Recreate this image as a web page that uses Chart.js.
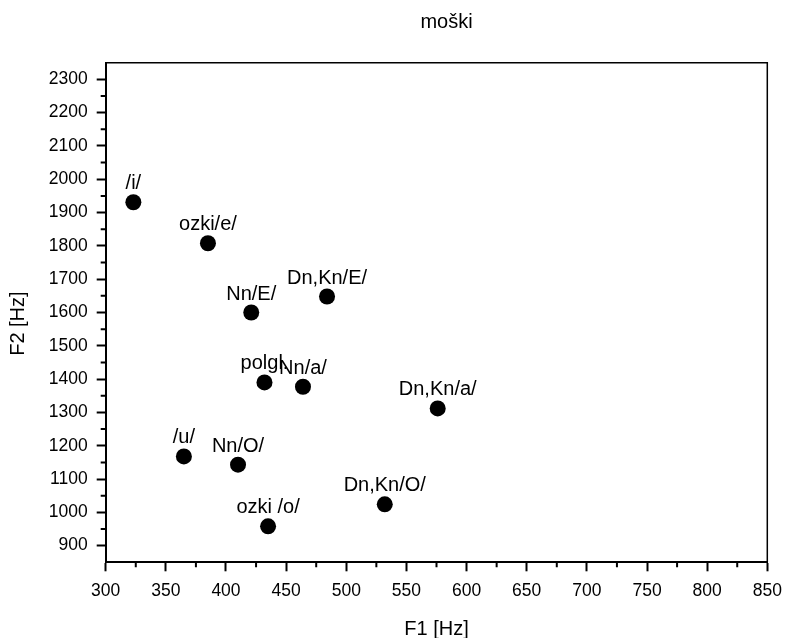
<!DOCTYPE html>
<html>
<head>
<meta charset="utf-8">
<script src="https://cdn.jsdelivr.net/npm/chart.js@4/dist/chart.umd.min.js"></script>
<style>
  body { margin: 0; background: #fff; }
  #wrap { width: 786px; height: 638px; }
</style>
</head>
<body>
<div id="wrap"><canvas id="formantChart" width="786" height="638"></canvas></div>
<script>
// samoglasniki - moški govorec
const vowels = ["/i/", "ozki/e/", "Nn/E/", "Dn,Kn/E/", "polgl.", "Nn/a/", "Dn,Kn/a/", "/u/", "Nn/O/", "ozki /o/", "Dn,Kn/O/"];
const f1 = [323, 385, 421, 484, 432, 464, 576, 365, 410, 435, 532];
const f2 = [1931, 1808, 1600, 1648, 1390, 1377, 1312, 1168, 1143, 958, 1024];

// oznake na oseh
const xTicks = [300, 350, 400, 450, 500, 550, 600, 650, 700, 750, 800, 850];
const yTicks = [900, 1000, 1100, 1200, 1300, 1400, 1500, 1600, 1700, 1800, 1900, 2000, 2100, 2200, 2300];

const fontFamily = "'Liberation Sans', Arial, Helvetica, sans-serif";

// naslov, okvir, manjse oznake in imena tock
const extras = {
    id: "extras",
    afterDraw(chart) {
        const ctx = chart.ctx;
        const a = chart.chartArea;
        const xs = chart.scales.x, ys = chart.scales.y;
        ctx.save();

        // okvir zgoraj in desno
        ctx.strokeStyle = "#000";
        ctx.lineWidth = 1.5;
        ctx.beginPath();
        ctx.moveTo(a.left, a.top);
        ctx.lineTo(a.right, a.top);
        ctx.lineTo(a.right, a.bottom);
        ctx.stroke();

        // manjse oznake
        ctx.lineWidth = 2;
        ctx.beginPath();
        for (let i = 0; i < xTicks.length - 1; i++) {
            const px = xs.getPixelForValue((xTicks[i] + xTicks[i + 1]) / 2);
            ctx.moveTo(px, a.bottom);
            ctx.lineTo(px, a.bottom + 5);
        }
        for (let i = 0; i < yTicks.length - 1; i++) {
            const py = ys.getPixelForValue((yTicks[i] + yTicks[i + 1]) / 2);
            ctx.moveTo(a.left, py);
            ctx.lineTo(a.left - 5, py);
        }
        ctx.stroke();

        // naslov
        ctx.fillStyle = "#000";
        ctx.font = "20px " + fontFamily;
        ctx.textAlign = "center";
        ctx.textBaseline = "middle";
        ctx.fillText("moški", (a.left + a.right) / 2 + 10, 22);
        ctx.restore();
    },
    afterDatasetsDraw(chart) {
        const ctx = chart.ctx;
        const meta = chart.getDatasetMeta(0);
        ctx.save();
        ctx.fillStyle = "#000";
        ctx.font = "20px " + fontFamily;
        ctx.textAlign = "center";
        ctx.textBaseline = "alphabetic";
        meta.data.forEach((pt, i) => {
            ctx.fillText(vowels[i], pt.x, pt.y - 13);
        });
        ctx.restore();
    }
};

const ctx = document.getElementById("formantChart").getContext("2d");
new Chart(ctx, {
    type: "scatter",
    data: {
        datasets: [{
            label: "moški",
            data: f1.map((v, i) => ({ x: v, y: f2[i] })),
            backgroundColor: "#000",
            borderColor: "#000",
            borderWidth: 0,
            pointRadius: 8,
            pointHoverRadius: 8
        }]
    },
    options: {
        responsive: false,
        animation: false,
        events: [],
        layout: { padding: { top: 62.7, right: 18.7, left: 0, bottom: 0 } },
        plugins: {
            legend: { display: false },
            tooltip: { enabled: false }
        },
        scales: {
            x: {
                type: "linear",
                min: 300,
                max: 850,
                afterBuildTicks: s => { s.ticks = xTicks.map(v => ({ value: v })); },
                afterFit: s => { s.height = 75.7; s.paddingLeft = 0; s.paddingRight = 0; },
                grid: { drawOnChartArea: false, tickLength: 9, tickColor: "#000", tickWidth: 2 },
                border: { color: "#000", width: 2 },
                ticks: {
                    color: "#000",
                    padding: 9,
                    font: { family: fontFamily, size: 17.5 },
                    callback: v => String(v),
                    maxRotation: 0,
                    autoSkip: false
                },
                title: {
                    display: true,
                    text: "F1 [Hz]",
                    color: "#000",
                    font: { family: fontFamily, size: 20 },
                    padding: { top: 0, bottom: -3 }
                }
            },
            y: {
                type: "linear",
                min: 850,
                max: 2350,
                afterBuildTicks: s => { s.ticks = yTicks.map(v => ({ value: v })); },
                afterFit: s => { s.width = 105.7; s.paddingTop = 0; s.paddingBottom = 0; },
                grid: { drawOnChartArea: false, tickLength: 9, tickColor: "#000", tickWidth: 2 },
                border: { color: "#000", width: 2 },
                ticks: {
                    color: "#000",
                    padding: 9,
                    font: { family: fontFamily, size: 17.5 },
                    callback: v => String(v),
                    autoSkip: false
                },
                title: {
                    display: true,
                    // presledki na koncu premaknejo napis nekoliko navzdol
                    text: "F2 [Hz]    ",
                    color: "#000",
                    font: { family: fontFamily, size: 20 },
                    padding: { top: 6, bottom: 0 }
                }
            }
        }
    },
    plugins: [extras]
});
</script>
</body>
</html>
